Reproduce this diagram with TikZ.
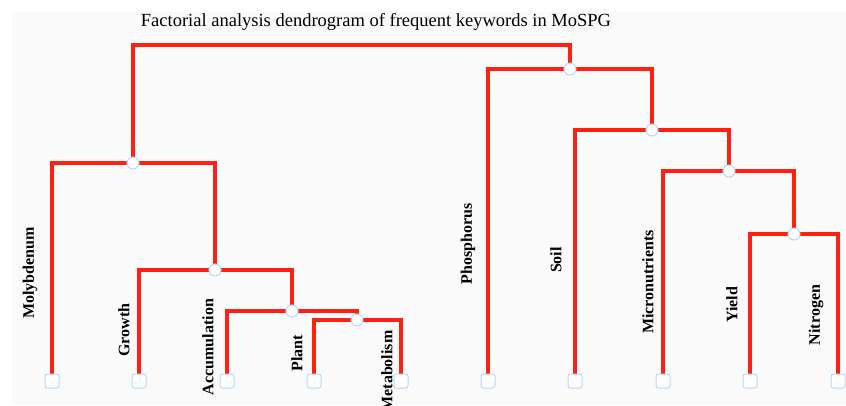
\documentclass[tikz,border=0pt]{standalone}
\usepackage{fontspec}
\setmainfont{Liberation Serif}
\usetikzlibrary{backgrounds}
\definecolor{dendred}{RGB}{255,32,20}
\definecolor{nodeblue}{RGB}{188,216,240}
\definecolor{panel}{RGB}{250,250,250}

\begin{document}
\begin{tikzpicture}
		[x=1pt,y=-1pt,%%%%%%%%%%%%%%%%%%%%%%%%%%%%%%
		link/.style={draw=dendred,line width=4.5pt},
		leaf/.style={rectangle,rounded corners=2.5pt,draw=nodeblue,fill=white,line width=1pt,minimum size=14pt,inner sep=0pt},
		joint/.style={circle,draw=nodeblue,fill=white,line width=1pt,minimum size=12pt,inner sep=0pt},
		word/.style={rotate=90,inner sep=0pt,font=\bfseries\fontsize{16}{18}\selectfont},
		]%%%%%%%%%%%%%%%%%%%%%%%%%%%%%%
		\useasboundingbox (0,0) rectangle (846,405);
		\clip (0,0) rectangle (846,405);
		
		% leaves
		\foreach \name/\x in {moly/52,growth/139,accu/227,plant/314,meta/401,phos/488,soil/575,micro/663,yield/750,nitro/838}{
			\node[leaf] (\name) at (\x,381){};
		}
		
		% joints
		\node[joint] (j1) at (357,320){};
		\node[joint] (j2) at (292,311){};
		\node[joint] (j3) at (215,270){};
		\node[joint] (j4) at (133,163){};
		\node[joint] (j5) at (794,234){};
		\node[joint] (j6) at (729,171){};
		\node[joint] (j7) at (652,130){};
		\node[joint] (j8) at (570,69){};
		\coordinate (root) at (351,45);
		
		% labels
		\node[word] (lmoly) at (30,273) {Molybdenum};
		\node[word] (lgrowth) at (124,330) {Growth};
		\node[word] (laccu) at (208,347) {Accumulation};
		\node[word] (lplant) at (297,353) {Plant};
		\node[word] (lmeta) at (387,371) {Metabolism};
		\node[word] (lphos) at (468,244) {Phosphorus};
		\node[word] (lsoil) at (556,260) {Soil};
		\node[word] (lmicro) at (648,282) {Micronutrients};
		\node[word] (lyield) at (732,305) {Yield};
		\node[word] (lnitro) at (816,315) {Nitrogen};
		
		\node[anchor=base,font=\fontsize{18.5}{20}\selectfont] (title) at (376,26) {Factorial analysis dendrogram of frequent keywords in MoSPG};
		
		\begin{scope}[on background layer]
		\fill[panel] (12,12) rectangle (846,405);
		\draw[link] (plant.center) |- (j1.center) -| (meta.center);
		\draw[link] (accu.center) |- (j2.center) -| (j1.center);
		\draw[link] (growth.center) |- (j3.center) -| (j2.center);
		\draw[link] (moly.center) |- (j4.center) -| (j3.center);
		\draw[link] (yield.center) |- (j5.center) -| (nitro.center);
		\draw[link] (micro.center) |- (j6.center) -| (j5.center);
		\draw[link] (soil.center) |- (j7.center) -| (j6.center);
		\draw[link] (phos.center) |- (j8.center) -| (j7.center);
		\draw[link] (j4.center) -- (j4.center |- root) -- (j8.center |- root) -- (j8.center);
		\end{scope}
\end{tikzpicture}
\end{document}
